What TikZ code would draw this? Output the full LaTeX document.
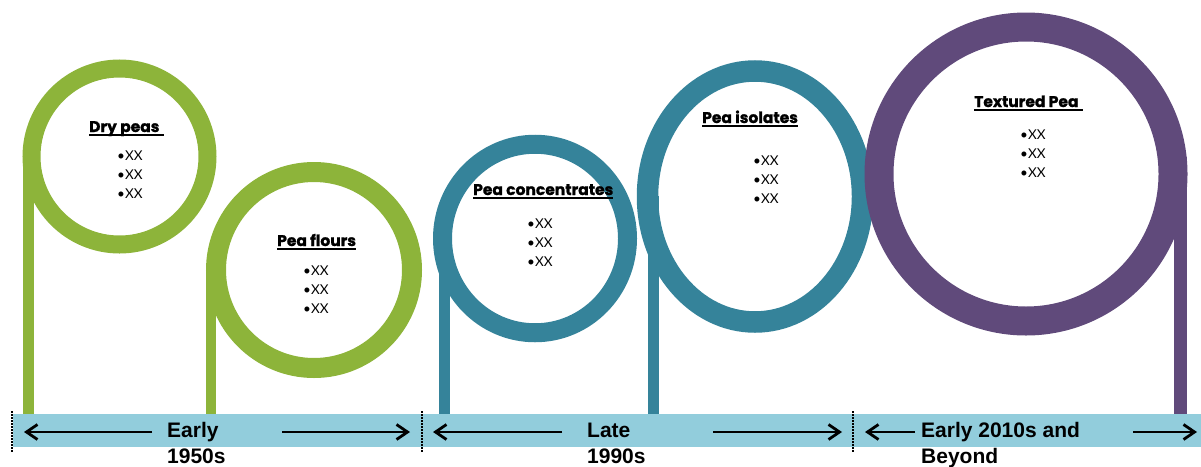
\documentclass[tikz,border=0pt]{standalone}
\usepackage{fontspec}
\setmainfont{Liberation Sans}
\newfontfamily\gothic{Poppins}[BoldFeatures={FakeBold=1.2}]
\newfontfamily\itemfont{Lato}
\usetikzlibrary{arrows.meta}
\definecolor{peagreen}{HTML}{8DB43A}
\definecolor{peateal}{HTML}{35839A}
\definecolor{peapurple}{HTML}{604A7B}
\definecolor{barblue}{HTML}{92CDDC}
\begin{document}
\begin{tikzpicture}[x=1pt,y=-1pt,
  stembar/.style={fill=#1, draw=none},
  title/.style={anchor=base west, inner sep=0pt, font=\gothic\bfseries\fontsize{15.5}{17}\selectfont},
  item/.style={anchor=base west, inner sep=0pt, font=\itemfont\fontsize{13.5}{16}\selectfont},
  period/.style={anchor=base west, inner sep=0pt, font=\bfseries\fontsize{21}{26}\selectfont},
  uline/.style={line width=2.4pt},
  divider/.style={dash pattern=on 1.5pt off 1.5pt, line width=1.4pt},
  timearrow/.style={line width=2.8pt, -{Straight Barb[length=11pt,width=15pt]}},
]
\useasboundingbox (0,0) rectangle (1201,466);

% stems
\fill[stembar=peagreen] (23,157) rectangle (34,414);
\fill[stembar=peagreen] (206,270) rectangle (216,414);
\fill[stembar=peateal] (439,238) rectangle (450,414);
\fill[stembar=peateal] (648,196) rectangle (659,414);
\fill[stembar=peapurple] (1174,157) rectangle (1187,414);

% rings
\draw[peagreen, line width=18pt] (119.5,156.5) ellipse [x radius=88pt, y radius=88pt];
\draw[peagreen, line width=20pt] (314,270) ellipse [x radius=98pt, y radius=98pt];
\draw[peateal, line width=19pt] (535,238.5) ellipse [x radius=92.5pt, y radius=94.25pt];
\draw[peateal, line width=21.5pt] (755,196.5) ellipse [x radius=107.5pt, y radius=125.5pt];
\draw[peapurple, line width=29pt] (1026,174) ellipse [x radius=147pt, y radius=147pt];

% bar
\fill[barblue] (13,414) rectangle (1201,447);
\draw[divider] (12,411) -- (12,453);
\draw[divider] (422,411) -- (422,453);
\draw[divider] (853,411) -- (853,453);

% titles
\node[title] (t1) at (89,132) {Dry peas\hspace*{0.25em}};
\node[title] (t2) at (277,246) {Pea flours};
\node[title] (t3) at (473,195) {Pea concentrates};
\node[title] (t4) at (702,123) {Pea isolates};
\node[title] (t5) at (974,107) {Textured Pea\hspace*{0.25em}};
\foreach \t in {t1,t2,t3,t4,t5}
  \draw[uline] ([yshift=-2.7pt]\t.base west) -- ([yshift=-2.7pt]\t.base east);

% bullet items
\foreach \n/\x/\y in {b1/117/160, b2/303/275, b3/527/228, b4/753/165, b5/1020/139}
  \foreach \k in {0,1,2}
    \node[item] (\n-\k) at (\x,\y+19.2*\k) {\textbullet XX};

% period labels
\node[period] (p1a) at (167,437) {Early};
\node[period] (p1b) at (167,463) {1950s};
\node[period] (p2a) at (587,437) {Late};
\node[period] (p2b) at (587,463) {1990s};
\node[period] (p3a) at (921,437) {Early 2010s and};
\node[period] (p3b) at (921,463) {Beyond};

% arrows
\coordinate (a1s) at (152,432); \coordinate (a1e) at (24,432);
\coordinate (a2s) at (282,432); \coordinate (a2e) at (410,432);
\coordinate (a3s) at (562,432); \coordinate (a3e) at (433,432);
\coordinate (a4s) at (713,432); \coordinate (a4e) at (842,432);
\coordinate (a5s) at (915,432); \coordinate (a5e) at (865,432);
\coordinate (a6s) at (1133,432); \coordinate (a6e) at (1197,432);
\draw[timearrow] (a1s) -- (a1e);
\draw[timearrow] (a2s) -- (a2e);
\draw[timearrow] (a3s) -- (a3e);
\draw[timearrow] (a4s) -- (a4e);
\draw[timearrow] (a5s) -- (a5e);
\draw[timearrow] (a6s) -- (a6e);
\end{tikzpicture}
\end{document}
